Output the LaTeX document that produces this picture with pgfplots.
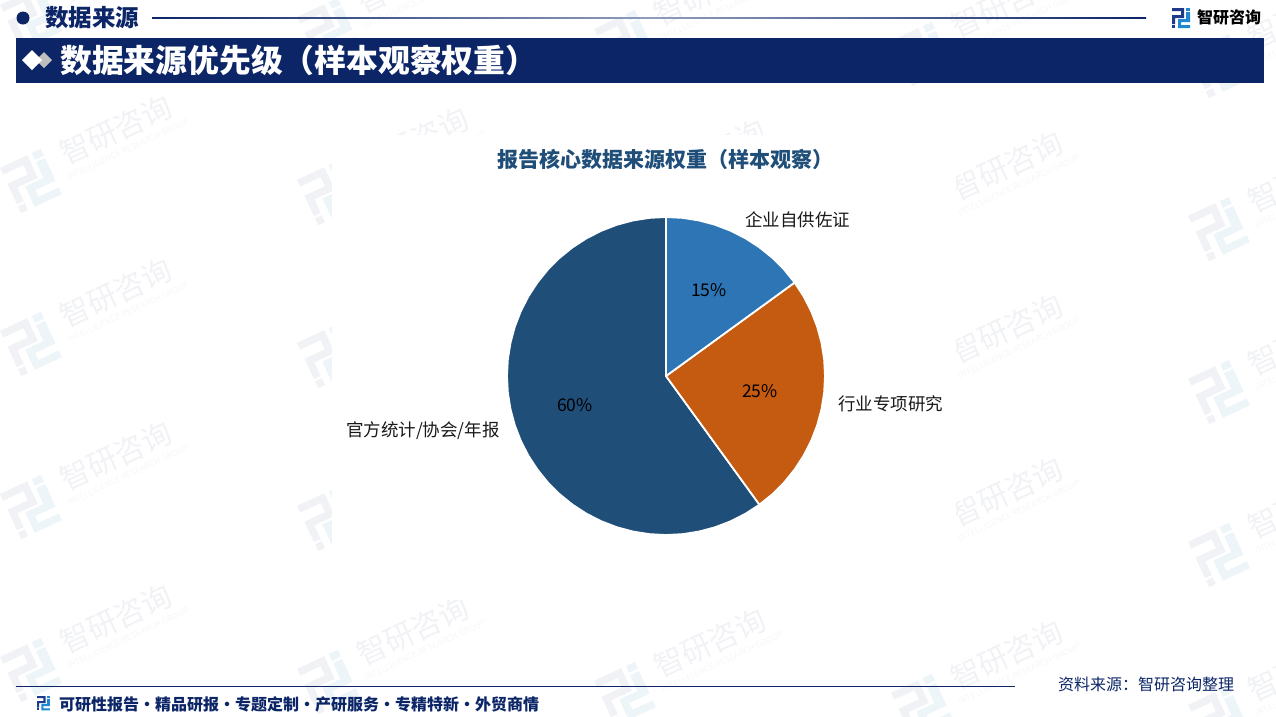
\documentclass[border=0pt]{standalone}
\usepackage{pgfplots}
\pgfplotsset{compat=1.18}
\usepgfplotslibrary{polar}
\usepackage{fontspec}
\setmainfont{Noto Sans CJK SC}
\definecolor{navy}{HTML}{0B2567}
\definecolor{pieblue}{HTML}{2E75B6}
\definecolor{pieorange}{HTML}{C55A11}
\definecolor{piedark}{HTML}{1F4E79}
\definecolor{wmtext}{HTML}{F1F2F5}
\definecolor{wmsub}{HTML}{F5F6F8}
\definecolor{wmA}{HTML}{F0F2F6}
\definecolor{wmB}{HTML}{EDF5F9}
\definecolor{logoA}{HTML}{1F3A8A}
\definecolor{logoB}{HTML}{1E88D2}
\newcommand\fs[1]{\fontsize{#1}{#1}\selectfont}
\newcommand\sep{\makebox[16pt][c]{·}}
% logo in an 18 x 20 local box
\newcommand\logoshape[2]{%
  \fill[#1] (0,0) -- (12,0) -- (12,10) -- (3,10) -- (3,16) -- (0,16) -- (0,7) -- (9,7) -- (9,3) -- (0,3) -- cycle;
  \fill[#1] (0,17) rectangle (3,20);
  \fill[#2] (14,0) rectangle (18,3);
  \fill[#2] (14,4) -- (18,4) -- (18,14) -- (9,14) -- (9,17) -- (18,17) -- (18,20) -- (6,20) -- (6,11) -- (14,11) -- cycle;
}
\begin{document}
\begin{tikzpicture}
\path[use as bounding box] (0,0) rectangle (1276pt,-716pt);
\begin{scope}[x=1pt,y=-1pt]
\begin{scope}
  \clip (0,0) rectangle (1276,716);
  \foreach \c in {0,1,2,3,4}{
    \foreach \r in {-1,0,1,2,3}{
      \begin{scope}[shift={({31+297*\c},{181+12*\c+163*\r})},rotate=25,scale=2.5,shift={(-9,-10)}]
        \logoshape{wmA}{wmB}
      \end{scope}
      \node[rotate=25,text=wmtext,font=\fs{30}] at ({116+297*\c},{130+12*\c+163*\r}) {智研咨询};
      \node[rotate=25,text=wmsub,font=\fs{8.5}] at ({128+297*\c},{149+12*\c+163*\r}) {INTELLIGENCE RESEARCH GROUP};
    }
  }
  \fill[white] (332,135) rectangle (956,600);
\end{scope}
% header
\fill[navy] (23,18) circle (6.5);
\node[anchor=west,inner sep=0,text=navy,font=\fs{23.5}\bfseries] at (45,18) {数据来源};
\shade[left color=navy,right color=navy,middle color=navy!45] (152,17) rectangle (1146,18);
\begin{scope}[shift={(1172,8)}]
  \logoshape{logoA}{logoB}
\end{scope}
\node[anchor=west,inner sep=0,text=black,font=\fs{16}\bfseries] at (1197,17) {智研咨询};
\fill[navy] (16,38) rectangle (1264,83);
\fill[lightgray] (44,52) -- (52,60) -- (44,68) -- (36,60) -- cycle;
\fill[white] (32,50) -- (42,60) -- (32,70) -- (22,60) -- cycle;
\node[anchor=west,inner sep=0,text=white,font=\fs{31.8}\bfseries] at (60,60) {数据来源优先级（样本观察权重）};
% chart title
\node[anchor=west,inner sep=0,text=piedark,font=\fs{21}\bfseries] at (497,159) {报告核心数据来源权重（样本观察）};
\end{scope}
\begin{polaraxis}[
  at={(666pt,-376pt)}, anchor=center,
  width=318pt, height=318pt, scale only axis,
  xmin=0, xmax=360, ymin=0, ymax=1,
  hide axis, clip=false]
% 60 %: 官方统计/协会/年报
\addplot[fill=piedark,draw=white,line width=1.8pt,line join=round] coordinates {
 (0,0) (306,1) (300,1) (294,1) (288,1) (282,1) (276,1) (270,1) (264,1) (258,1) (252,1) (246,1) (240,1)
 (234,1) (228,1) (222,1) (216,1) (210,1) (204,1) (198,1) (192,1) (186,1) (180,1) (174,1) (168,1) (162,1)
 (156,1) (150,1) (144,1) (138,1) (132,1) (126,1) (120,1) (114,1) (108,1) (102,1) (96,1) (90,1)} -- cycle;
% 25 %: 行业专项研究
\addplot[fill=pieorange,draw=white,line width=1.8pt,line join=round] coordinates {
 (0,0) (36,1) (30,1) (24,1) (18,1) (12,1) (6,1) (0,1) (354,1) (348,1) (342,1) (336,1) (330,1) (324,1) (318,1) (312,1) (306,1)} -- cycle;
% 15 %: 企业自供佐证
\addplot[fill=pieblue,draw=white,line width=1.8pt,line join=round] coordinates {
 (0,0) (90,1) (84,1) (78,1) (72,1) (66,1) (60,1) (54,1) (48,1) (42,1) (36,1)} -- cycle;
\end{polaraxis}
\begin{scope}[x=1pt,y=-1pt]
\node[anchor=west,inner sep=0,text=black!90,font=\fs{17.5}] at (745,220) {企业自供佐证};
\node[anchor=west,inner sep=0,text=black!90,font=\fs{17.5}] at (838,404) {行业专项研究};
\node[anchor=east,inner sep=0,text=black!90,font=\fs{17.5}] at (500,430.5) {官方统计/协会/年报};
\node[inner sep=0,text=black,font=\fs{17.5}] at (709,290) {15\%};
\node[inner sep=0,text=black,font=\fs{17.5}] at (760,391) {25\%};
\node[inner sep=0,text=black,font=\fs{17.5}] at (575,405) {60\%};
% footer
\fill[navy] (16,686) rectangle (1015,687);
\begin{scope}[shift={(37,696)},scale=0.72]
  \logoshape{logoA}{logoB}
\end{scope}
\node[anchor=west,inner sep=0,text=navy,font=\fs{16}\bfseries] at (59,704) {可研性报告\sep 精品研报\sep 专题定制\sep 产研服务\sep 专精特新\sep 外贸商情};
\node[anchor=west,inner sep=0,text=navy,font=\fs{16}] at (1058,684) {资料来源：智研咨询整理};
\end{scope}
\end{tikzpicture}
\end{document}
